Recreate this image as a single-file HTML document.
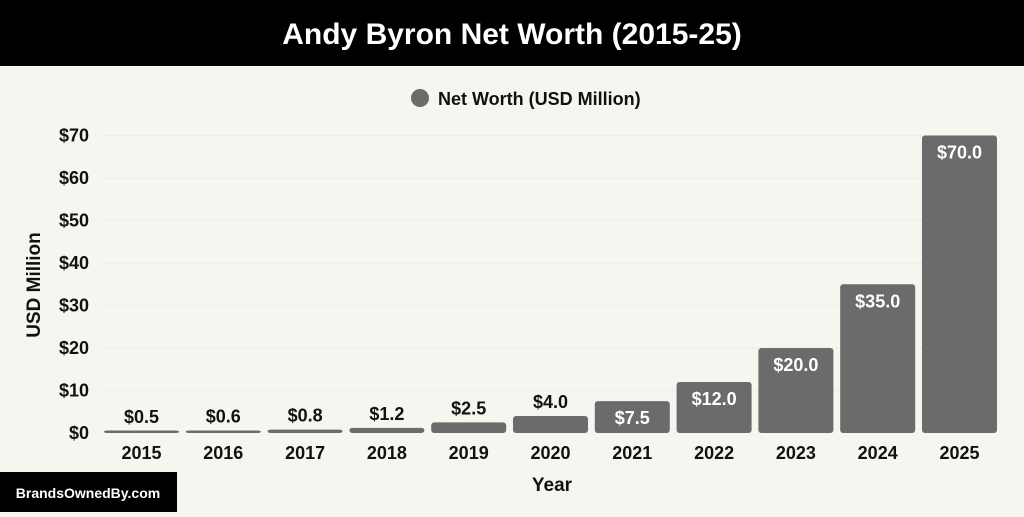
<!DOCTYPE html>
<html><head><meta charset="utf-8"><style>
body{margin:0;width:1024px;height:512px;overflow:hidden;background:#f6f5f0;font-family:"Liberation Sans",sans-serif}
</style></head><body>
<svg width="1024" height="512" xmlns="http://www.w3.org/2000/svg" font-family="Liberation Sans, sans-serif" font-weight="bold">
<rect x="0" y="0" width="1024" height="512" fill="#f6f5f0"/>
<rect x="0" y="0" width="1024" height="66" fill="#000"/>
<text x="512" y="44" fill="#fff" font-size="30" text-anchor="middle">Andy Byron Net Worth (2015-25)</text>
<circle cx="420" cy="98" r="9" fill="#6b6b6b"/>
<text x="438" y="105" font-size="18" fill="#111">Net Worth (USD Million)</text>
<text transform="translate(40,285) rotate(-90)" text-anchor="middle" font-size="19" fill="#111">USD Million</text>
<text x="552" y="491" text-anchor="middle" font-size="19" fill="#111">Year</text>
<g id="grid"></g><g id="bars"></g>
<rect x="0" y="472" width="177" height="40" fill="#000"/>
<text x="88" y="498" text-anchor="middle" font-size="14" fill="#fff">BrandsOwnedBy.com</text>
</svg>
<script>
const years=["2015","2016","2017","2018","2019","2020","2021","2022","2023","2024","2025"];
const values=[0.5,0.6,0.8,1.2,2.5,4.0,7.5,12.0,20.0,35.0,70.0];
const ticks=[0,10,20,30,40,50,60,70];
const NS="http://www.w3.org/2000/svg";
const y=v=>433-v*(433-135.5)/70;
const x=i=>104+i*81.8;
const bw=75;
function mk(t,a,txt){const e=document.createElementNS(NS,t);for(const k in a)e.setAttribute(k,a[k]);if(txt!==undefined)e.textContent=txt;return e;}
const g=document.getElementById('grid'),b=document.getElementById('bars');
ticks.forEach(t=>{
 if(t>0){const l=mk('line',{x1:104,x2:998,y1:y(t),y2:y(t),stroke:'#e6e4de','stroke-width':1,'stroke-dasharray':'2,2'});
 
 g.appendChild(l);}
 const tx=mk('text',{x:89,y:y(t)+6,'text-anchor':'end','font-size':18,fill:'#111'},'$'+t);
 
 g.appendChild(tx);
});
values.forEach((v,i)=>{
 const h=Math.max(433-y(v),2.5);
 const r=mk('rect',{x:x(i),y:433-h,width:bw,height:h,rx:3,fill:'#6b6b6b'});
 
 b.appendChild(r);
 const inside=v>=7;
 const lab=mk('text',{x:x(i)+bw/2,y:inside?y(v)+23:y(v)-8,'text-anchor':'middle','font-size':18,fill:inside?'#fff':'#111'},'$'+v.toFixed(1));
 
 b.appendChild(lab);
 const xl=mk('text',{x:x(i)+bw/2,y:459,'text-anchor':'middle','font-size':18,fill:'#111'},years[i]);
 
 b.appendChild(xl);
});
</script>
</body></html>
